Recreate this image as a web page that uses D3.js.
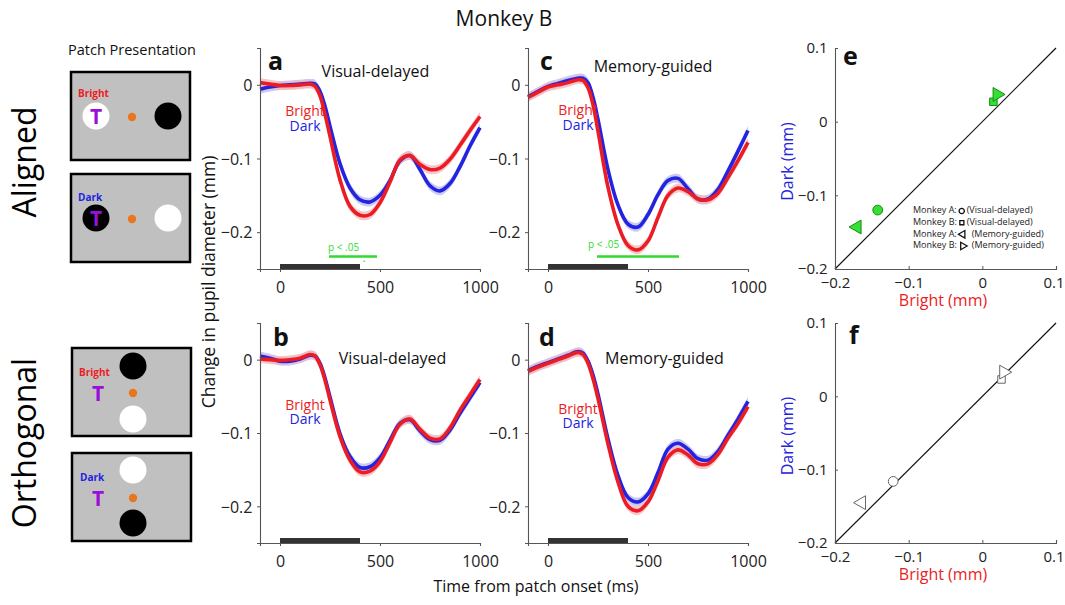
<!DOCTYPE html>
<html><head><meta charset="utf-8">
<script src="https://cdn.jsdelivr.net/npm/d3@7"></script>
<style>
body{margin:0;background:#fff;}
text{font-family:"Open Sans","Noto Sans",sans-serif;}
</style></head>
<body><div id="chart"></div>
<script>
// ---------- DATA ----------
const times = [-100,-50,0,50,100,150,175,200,225,250,300,350,400,450,500,550,600,650,700,750,800,850,900,950,1000];
// panel a (aligned, visual-delayed)
const aBright = [0.003,0.001,-0.001,-0.001,0.000,0.001,-0.002,-0.015,-0.040,-0.070,-0.129,-0.165,-0.177,-0.176,-0.160,-0.132,-0.102,-0.096,-0.108,-0.115,-0.113,-0.101,-0.082,-0.062,-0.043];
const aDark   = [-0.006,-0.003,-0.001,0.000,0.001,0.002,0.001,-0.009,-0.029,-0.056,-0.107,-0.140,-0.156,-0.159,-0.150,-0.130,-0.103,-0.096,-0.115,-0.137,-0.144,-0.134,-0.111,-0.083,-0.058];
// panel c (aligned, memory-guided)
const cBright = [-0.017,-0.010,-0.003,0.000,0.003,0.007,0.006,-0.004,-0.027,-0.063,-0.139,-0.190,-0.218,-0.224,-0.212,-0.180,-0.150,-0.140,-0.145,-0.155,-0.156,-0.147,-0.126,-0.103,-0.078];
const cDark   = [-0.016,-0.009,-0.002,0.002,0.006,0.009,0.009,0.003,-0.017,-0.047,-0.115,-0.163,-0.189,-0.193,-0.176,-0.149,-0.130,-0.127,-0.141,-0.155,-0.155,-0.142,-0.117,-0.090,-0.062];
// panel b (orthogonal, visual-delayed)
const bBright = [0.001,0.000,-0.001,0.000,0.002,0.007,0.005,-0.007,-0.028,-0.055,-0.105,-0.137,-0.153,-0.152,-0.139,-0.113,-0.088,-0.081,-0.095,-0.107,-0.108,-0.093,-0.069,-0.048,-0.027];
const bDark   = [0.005,0.002,-0.002,-0.002,0.001,0.006,0.005,-0.005,-0.025,-0.051,-0.101,-0.132,-0.147,-0.146,-0.134,-0.110,-0.087,-0.082,-0.097,-0.109,-0.110,-0.096,-0.073,-0.052,-0.031];
// panel d (orthogonal, memory-guided)
const dBright = [-0.016,-0.010,-0.005,0.000,0.005,0.010,0.007,-0.005,-0.026,-0.053,-0.115,-0.167,-0.200,-0.206,-0.194,-0.165,-0.133,-0.123,-0.130,-0.142,-0.142,-0.129,-0.107,-0.087,-0.064];
const dDark   = [-0.015,-0.009,-0.004,0.001,0.006,0.011,0.009,-0.002,-0.021,-0.047,-0.108,-0.158,-0.188,-0.194,-0.183,-0.154,-0.122,-0.114,-0.122,-0.135,-0.137,-0.125,-0.103,-0.081,-0.057];
const semBright = 0.006;
const semDark = 0.006;
const stimulusWindow = [0, 400];
const sigWindowA = [[245, 485], [418, 424]];
const sigWindowC = [[245, 655]];
const timeTicks = [0, 500, 1000];
const diamTicks = [-0.2, -0.1, 0];
// scatter e / f
const legendMonkeys = ["Monkey A:", "Monkey B:", "Monkey A:", "Monkey B:"];
const legendConditions = ["(Visual-delayed)", "(Visual-delayed)", "(Memory-guided)", "(Memory-guided)"];
const markerShapes = ["circle", "square", "triLeft", "triRight"];
const eBrightVals = [-0.142, 0.015, -0.170, 0.020];
const eDarkVals   = [-0.120, 0.027, -0.143, 0.037];
const fBrightVals = [-0.121, 0.026, -0.164, 0.029];
const fDarkVals   = [-0.116, 0.023, -0.145, 0.033];
const scatterTicks = [-0.2, -0.1, 0, 0.1];

// ---------- DRAW ----------
const W = 1065, H = 605;
const svg = d3.select("#chart").append("svg").attr("width", W).attr("height", H);
svg.append("rect").attr("width", W).attr("height", H).attr("fill", "#fff");

const RED = "#ec1c24", BLUE = "#2323e0", GREEN = "#2edb2e";
const fmt = d => d === 0 ? "0" : d3.format("")(d);

svg.append("text").attr("x", 504).attr("y", 26).attr("text-anchor", "middle")
  .attr("font-size", 21).attr("fill", "#111").text("Monkey B");

// Left schematic
svg.append("text").attr("x", 132).attr("y", 55).attr("text-anchor", "middle")
  .attr("font-size", 14.5).attr("fill", "#111").text("Patch Presentation");
svg.append("text").attr("transform", "translate(36,162) rotate(-90)").attr("text-anchor", "middle")
  .attr("font-size", 32).attr("fill", "#000").text("Aligned");
svg.append("text").attr("transform", "translate(36,443) rotate(-90)").attr("text-anchor", "middle")
  .attr("font-size", 32).attr("fill", "#000").text("Orthogonal");

const boxes = [
  {ox: 71, oy: 72, label: "Bright", lc: RED, lx: 7, ly: 25,
   items: [["w", 25, 44], ["k", 97, 44]], t: [25, 44], dot: [61, 45]},
  {ox: 71, oy: 174, label: "Dark", lc: BLUE, lx: 7, ly: 27,
   items: [["k", 25, 44], ["w", 97, 44]], t: [25, 44], dot: [61, 45]},
  {ox: 72, oy: 348, label: "Bright", lc: RED, lx: 7, ly: 28,
   items: [["k", 61, 18], ["w", 61, 71]], t: [26, 45], dot: [61, 45]},
  {ox: 72, oy: 453, label: "Dark", lc: BLUE, lx: 8, ly: 28,
   items: [["w", 61, 17], ["k", 61, 70]], t: [26, 45], dot: [61, 45]}
];
boxes.forEach(b => {
  const g = svg.append("g").attr("transform", `translate(${b.ox},${b.oy})`);
  g.append("rect").attr("width", 119).attr("height", 88).attr("fill", "#c0c0c0")
    .attr("stroke", "#000").attr("stroke-width", 2.5);
  b.items.forEach(it => g.append("circle").attr("cx", it[1]).attr("cy", it[2]).attr("r", 13.5)
    .attr("fill", it[0] === "w" ? "#fff" : "#000"));
  g.append("circle").attr("cx", b.dot[0]).attr("cy", b.dot[1]).attr("r", 4.2).attr("fill", "#e8761e");
  g.append("text").attr("x", b.t[0]).attr("y", b.t[1] + 7.5).attr("text-anchor", "middle")
    .attr("font-size", 21).attr("font-weight", 700).attr("fill", "#9a10d8").text("T");
  g.append("text").attr("x", b.lx).attr("y", b.ly).attr("font-size", 10).attr("font-weight", 700)
    .attr("fill", b.lc).text(b.label);
});

// Time-course panels
const rows = [{y0: 269, y1: 48}, {y0: 543, y1: 323}];
const cols = [{x0: 260, x1: 480}, {x0: 528, x1: 748}];
const panels = [
  {id: "a", r: 0, c: 0, br: aBright, dk: aDark, title: "Visual-delayed", tt: 477, ty: 77, lab: [268, 70], bl: [125, -0.042, -0.062], sig: sigWindowA, sigText: [240, -0.225]},
  {id: "c", r: 0, c: 1, br: cBright, dk: cDark, title: "Memory-guided", tt: 525, ty: 72, lab: [540, 70], bl: [150, -0.041, -0.061], sig: sigWindowC, sigText: [200, -0.222]},
  {id: "b", r: 1, c: 0, br: bBright, dk: bDark, title: "Visual-delayed", tt: 563, ty: 364, lab: [273, 346], bl: [125, -0.068, -0.088], sig: null},
  {id: "d", r: 1, c: 1, br: dBright, dk: dDark, title: "Memory-guided", tt: 582, ty: 364, lab: [539, 346], bl: [150, -0.074, -0.093], sig: null}
];
panels.forEach(p => {
  const x = d3.scaleLinear().domain([-100, 1000]).range([cols[p.c].x0, cols[p.c].x1]);
  const y = d3.scaleLinear().domain([-0.25, 0.05]).range([rows[p.r].y0, rows[p.r].y1]);
  const g = svg.append("g");
  // stimulus bar
  g.append("rect").attr("x", x(stimulusWindow[0])).attr("width", x(stimulusWindow[1]) - x(stimulusWindow[0]))
    .attr("y", y(-0.25) - 5).attr("height", 5).attr("fill", "#333");
  const area = vals => d3.area().curve(d3.curveCatmullRom).x((d, i) => x(times[i]))
    .y0((d, i) => y(vals[i] - (vals === p.br ? semBright : semDark)))
    .y1((d, i) => y(vals[i] + (vals === p.br ? semBright : semDark)))(vals);
  const line = vals => d3.line().curve(d3.curveCatmullRom).x((d, i) => x(times[i])).y((d, i) => y(vals[i]))(vals);
  g.append("path").attr("d", area(p.dk)).attr("fill", "#b8b8f4").attr("opacity", 0.75);
  g.append("path").attr("d", area(p.br)).attr("fill", "#f6b4b8").attr("opacity", 0.75);
  g.append("path").attr("d", line(p.dk)).attr("fill", "none").attr("stroke", BLUE).attr("stroke-width", 3.6);
  g.append("path").attr("d", line(p.br)).attr("fill", "none").attr("stroke", RED).attr("stroke-width", 3.6);
  // axes
  const xa = g.append("g").attr("transform", `translate(0,${y(-0.25)})`)
    .call(d3.axisBottom(x).tickValues(timeTicks).tickSize(3).tickFormat(fmt));
  const ya = g.append("g").attr("transform", `translate(${x(-100)},0)`)
    .call(d3.axisLeft(y).tickValues(diamTicks).tickSize(3).tickFormat(fmt));
  [xa, ya].forEach(a => {
    a.select(".domain").attr("stroke", "#555").attr("stroke-width", 1.1);
    a.selectAll(".tick line").attr("stroke", "#555");
    a.selectAll(".tick text").attr("font-size", 16).attr("fill", "#222")
      .attr("font-family", '"Open Sans",sans-serif');
  });
  xa.selectAll(".tick text").attr("dy", "1.15em");
  ya.selectAll(".tick text").attr("dx", "-0.1em").attr("dy", "0.36em");
  // significance
  if (p.sig) {
    p.sig.forEach((s, k) => g.append("line").attr("x1", x(s[0])).attr("x2", x(s[1]))
      .attr("y1", y(k === 0 ? -0.233 : -0.2395)).attr("y2", y(k === 0 ? -0.233 : -0.2395))
      .attr("stroke", GREEN).attr("stroke-width", k === 0 ? 2.6 : 1.5));
    g.append("text").attr("x", x(p.sigText[0])).attr("y", y(p.sigText[1])).attr("font-size", 10)
      .attr("fill", GREEN).text("p < .05");
  }
  g.append("text").attr("x", x(p.tt)).attr("y", p.ty).attr("text-anchor", "middle")
    .attr("font-size", 16).attr("fill", "#111").text(p.title);
  g.append("text").attr("x", p.lab[0]).attr("y", p.lab[1]).attr("font-size", 25).attr("font-weight", 700)
    .attr("fill", "#111").text(p.id);
  g.append("text").attr("x", x(p.bl[0])).attr("y", y(p.bl[1])).attr("text-anchor", "middle")
    .attr("font-size", 14).attr("fill", RED).text("Bright");
  g.append("text").attr("x", x(p.bl[0])).attr("y", y(p.bl[2])).attr("text-anchor", "middle")
    .attr("font-size", 14).attr("fill", BLUE).text("Dark");
});
svg.append("text").attr("transform", "translate(215,282) rotate(-90)").attr("text-anchor", "middle")
  .attr("font-size", 17.5).attr("fill", "#111").text("Change in pupil diameter (mm)");
svg.append("text").attr("x", 536).attr("y", 592).attr("text-anchor", "middle")
  .attr("font-size", 16).attr("fill", "#111").text("Time from patch onset (ms)");

// Scatter panels
function shapePath(shape, size) {
  if (shape === "circle") return d3.symbol(d3.symbolCircle, size)();
  if (shape === "square") return d3.symbol(d3.symbolSquare, size * 0.75)();
  return d3.symbol(d3.symbolTriangle, size * 1.1)();
}
function shapeRot(shape) { return shape === "triLeft" ? -90 : shape === "triRight" ? 90 : 0; }

const scat = [
  {id: "e", r: 0, bx: eBrightVals, dy: eDarkVals, fill: "#33e033", stroke: "#1a8a1a", lab: [843, 65], legend: true},
  {id: "f", r: 1, bx: fBrightVals, dy: fDarkVals, fill: "#fff", stroke: "#666", lab: [849, 344], legend: false}
];
scat.forEach(s => {
  const x = d3.scaleLinear().domain([-0.2, 0.1]).range([835, 1056]);
  const y = d3.scaleLinear().domain([-0.2, 0.1]).range([rows[s.r].y0, rows[s.r].y1]);
  const g = svg.append("g");
  g.append("line").attr("x1", x(-0.2)).attr("y1", y(-0.2)).attr("x2", x(0.1)).attr("y2", y(0.1))
    .attr("stroke", "#111").attr("stroke-width", 1.2);
  const xa = g.append("g").attr("transform", `translate(0,${y(-0.2)})`)
    .call(d3.axisBottom(x).tickValues(scatterTicks).tickSize(-3).tickFormat(fmt));
  const ya = g.append("g").attr("transform", `translate(${x(-0.2)},0)`)
    .call(d3.axisLeft(y).tickValues(scatterTicks).tickSize(-3).tickFormat(fmt));
  [xa, ya].forEach(a => {
    a.select(".domain").attr("stroke", "#555").attr("stroke-width", 1.1);
    a.selectAll(".tick line").attr("stroke", "#555");
    a.selectAll(".tick text").attr("font-size", 15).attr("fill", "#222")
      .attr("font-family", '"Open Sans",sans-serif');
  });
  xa.selectAll(".tick text").attr("dy", "1.05em");
  xa.selectAll(".tick text").filter(d => d === 0.1).attr("text-anchor", "end").attr("x", 8);
  ya.selectAll(".tick text").attr("dx", "-0.3em");
  markerShapes.forEach((sh, i) => {
    g.append("path").attr("d", shapePath(sh, 75))
      .attr("transform", `translate(${x(s.bx[i])},${y(s.dy[i])}) rotate(${shapeRot(sh)})`)
      .attr("fill", s.fill).attr("stroke", s.stroke).attr("stroke-width", 1);
  });
  g.append("text").attr("x", s.lab[0]).attr("y", s.lab[1]).attr("font-size", 25).attr("font-weight", 700)
    .attr("fill", "#111").text(s.id);
  g.append("text").attr("x", 943).attr("y", y(-0.2) + 37).attr("text-anchor", "middle")
    .attr("font-size", 16).attr("fill", RED).text("Bright (mm)");
  g.append("text").attr("transform", `translate(793,${(y(-0.2) + y(0.1)) / 2 + 3}) rotate(-90)`)
    .attr("text-anchor", "middle").attr("font-size", 16).attr("fill", BLUE).text("Dark (mm)");
  if (s.legend) {
    const ly = [211, 222.7, 234.3, 246];
    legendMonkeys.forEach((m, i) => {
      const t1 = g.append("text").attr("x", 913).attr("y", ly[i]).attr("dominant-baseline", "middle")
        .attr("font-size", 9).attr("fill", "#222").text(m);
      const end = 913 + t1.node().getComputedTextLength();
      const sh = markerShapes[i];
      const mx = end + (i < 2 ? 5 : 6);
      g.append("path").attr("d", shapePath(sh, 22))
        .attr("transform", `translate(${mx},${ly[i]}) rotate(${shapeRot(sh)})`)
        .attr("fill", "none").attr("stroke", "#111").attr("stroke-width", 1.3);
      g.append("text").attr("x", mx + (i < 2 ? 5 : 9)).attr("y", ly[i]).attr("dominant-baseline", "middle")
        .attr("font-size", 9).attr("fill", "#222").text(legendConditions[i]);
    });
  }
});
</script></body></html>
